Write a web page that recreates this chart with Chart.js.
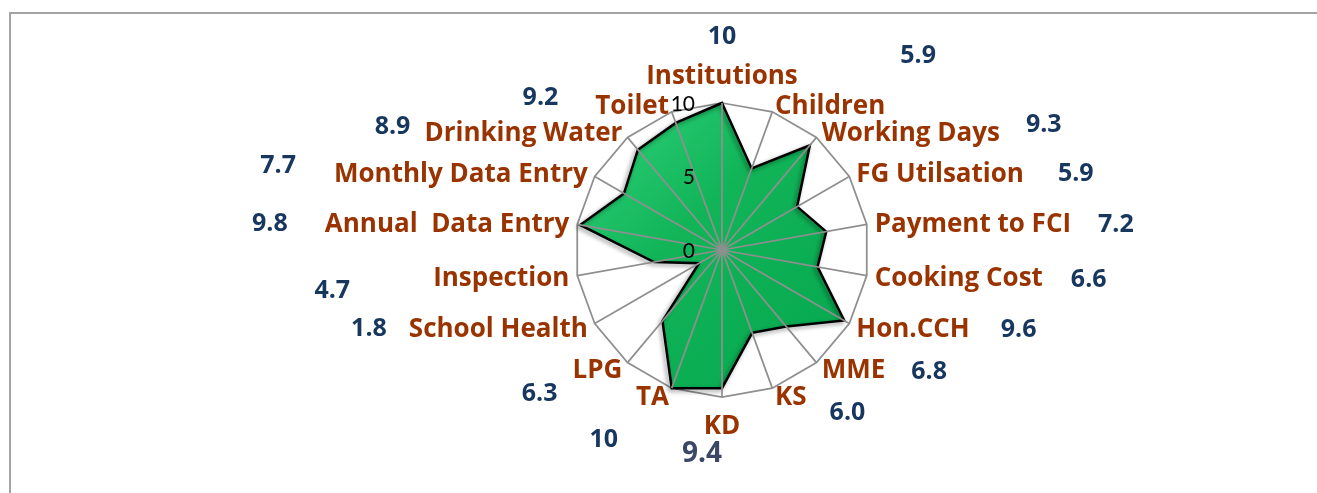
<!DOCTYPE html>
<html>
<head>
<meta charset="utf-8">
<script src="https://cdn.jsdelivr.net/npm/chart.js@4"></script>
<style>
  html, body { margin: 0; padding: 0; background: #fff; overflow: hidden; }
  #wrap { position: relative; width: 1317px; height: 493px; }
  #frame { position: absolute; left: 9px; top: 12px; width: 1400px; height: 600px; border: 2px solid #a3a3a3; box-sizing: border-box; }
  canvas { position: absolute; left: 0; top: 0; }
</style>
</head>
<body>
<div id="wrap">
  <div id="frame"></div>
  <canvas id="radarChart" width="1317" height="493"></canvas>
</div>
<script>
const categories = ['Institutions', 'Children', 'Working Days', 'FG Utilsation', 'Payment to FCI', 'Cooking Cost',
    'Hon.CCH', 'MME', 'KS', 'KD', 'TA', 'LPG', 'School Health', 'Inspection', 'Annual  Data Entry',
    'Monthly Data Entry', 'Drinking Water', 'Toilet'];
const scores = [10, 5.9, 9.3, 5.9, 7.2, 6.6, 9.6, 6.8, 6.0, 9.4, 10, 6.3, 1.8, 4.7, 9.8, 7.7, 8.9, 9.2];
const tickValues = [0, 5, 10];

// where each value label sits relative to its category label: [gap / shift, vertical shift]
const valueNudge = [[0, -40], [15, -50], [26, -8], [34, 0], [27, 0], [28, 1], [31, 1], [26, 1], [23, 15],
    [-20, 28], [18, 42], [15, 23], [22, 0], [83, 12], [37, -1], [38, -8], [14, -6], [37, -8]];

const FONT = '"Open Sans", sans-serif';
const LABEL_SIZE = 26;
const VALUE_SIZE = 25;

function fmt(v) {
    return v === 10 ? '10' : v.toFixed(1);
}

// shadow under the filled shape
const shapeShadow = {
    id: 'shapeShadow',
    beforeDatasetDraw(chart) {
        const ctx = chart.ctx;
        ctx.save();
        ctx.shadowColor = 'rgba(0,0,0,0.45)';
        ctx.shadowBlur = 4;
        ctx.shadowOffsetX = -2;
        ctx.shadowOffsetY = 2;
    },
    afterDatasetDraw(chart) {
        chart.ctx.restore();
    }
};

// spokes, tick numbers, category labels and values on top of the fill
const overlay = {
    id: 'overlay',
    afterDatasetsDraw(chart) {
        const r = chart.scales.r;
        const ctx = chart.ctx;
        ctx.save();

        ctx.strokeStyle = '#8f8f8f';
        ctx.lineWidth = 1.75;
        categories.forEach((c, i) => {
            const p = r.getPointPosition(i, r.drawingArea);
            ctx.beginPath();
            ctx.moveTo(r.xCenter, r.yCenter);
            ctx.lineTo(p.x, p.y);
            ctx.stroke();
        });

        ctx.fillStyle = '#000';
        ctx.font = '21px Lato';
        ctx.textAlign = 'right';
        ctx.textBaseline = 'alphabetic';
        tickValues.forEach(v => {
            const y = r.yCenter - r.getDistanceFromCenterForValue(v);
            ctx.fillText(String(v), r.xCenter - 27, y + 7.5);
        });

        const capH = LABEL_SIZE * 0.714;
        const digH = VALUE_SIZE * 0.714;
        categories.forEach((name, i) => {
            const deg = Math.round(i * 360 / categories.length);
            const p = r.getPointPosition(i, r.drawingArea + 8);
            ctx.font = 'bold ' + LABEL_SIZE + 'px ' + FONT;
            const w = ctx.measureText(name).width;
            let align = 'center';
            let cy = p.y;
            if (deg === 0) cy = p.y - 11 - capH / 2;
            else if (deg === 180) cy = p.y + 10 + capH / 2;
            else align = deg < 180 ? 'left' : 'right';
            ctx.textAlign = align;
            ctx.fillStyle = '#993300';
            ctx.fillText(name, p.x, cy + capH / 2);

            const [dx, dy] = valueNudge[i];
            let vx;
            if (align === 'left') vx = p.x + w + dx;
            else if (align === 'right') vx = p.x - w - dx;
            else vx = p.x + dx;
            const big = deg === 180;
            const size = big ? VALUE_SIZE + 3 : VALUE_SIZE;
            ctx.font = 'bold ' + size + 'px ' + FONT;
            ctx.fillStyle = big ? '#3a4766' : '#17375e';
            ctx.fillText(fmt(scores[i]), vx, cy + dy + (big ? size * 0.714 : digH) / 2);
        });

        ctx.restore();
    }
};

const ctx = document.getElementById('radarChart').getContext('2d');
const radarChart = new Chart(ctx, {
    type: 'radar',
    data: {
        labels: categories,
        datasets: [{
            label: 'Score',
            data: scores,
            backgroundColor: function(context) {
                const area = context.chart.chartArea;
                if (!area) return '#12b458';
                const g = context.chart.ctx.createLinearGradient(area.left, area.top, area.right, area.bottom);
                g.addColorStop(0, '#2fd47c');
                g.addColorStop(0.4, '#12b458');
                g.addColorStop(1, '#04a64e');
                return g;
            },
            borderColor: '#000',
            borderWidth: 2.5,
            pointRadius: 0,
            fill: true
        }]
    },
    options: {
        responsive: false,
        animation: false,
        layout: { padding: { left: 575, right: 447, top: 103, bottom: 95 } },
        plugins: {
            legend: { display: false },
            tooltip: { enabled: false }
        },
        scales: {
            r: {
                min: 0,
                max: 10,
                ticks: { display: false, stepSize: 5 },
                angleLines: { display: false },
                pointLabels: { display: false },
                grid: {
                    color: c => (c.tick && c.tick.value === 10) ? '#8f8f8f' : 'rgba(0,0,0,0)',
                    lineWidth: 1.75
                }
            }
        }
    },
    plugins: [shapeShadow, overlay]
});
</script>
</body>
</html>
